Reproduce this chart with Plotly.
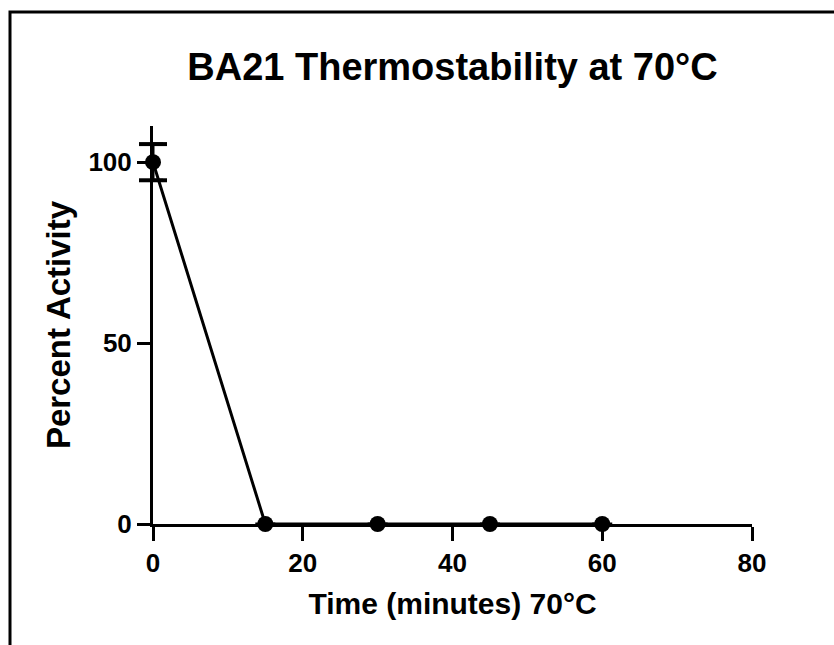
import plotly.graph_objects as go

time_min = [0, 15, 30, 45, 60]
activity = [100, 0, 0, 0, 0]
activity_err = [5, 0, 0, 0, 0]

x_ticks = [0, 20, 40, 60, 80]
y_ticks = [0, 50, 100]

FONT = "Liberation Sans, Arial, sans-serif"

fig = go.Figure()
fig.add_trace(go.Scatter(
    x=time_min, y=activity,
    mode="lines+markers",
    line=dict(color="black", width=3),
    marker=dict(color="black", size=16, symbol="circle"),
    error_y=dict(type="data", array=activity_err, visible=True,
                 color="black", thickness=3, width=10),
    cliponaxis=False,
    showlegend=False,
))

# error-bar caps drawn as markers so they are not clipped at the axis
cap_x, cap_y = [], []
for xv, yv, ev in zip(time_min, activity, activity_err):
    if ev > 0:
        cap_x += [xv, xv]
        cap_y += [yv - ev, yv + ev]
fig.add_trace(go.Scatter(
    x=cap_x, y=cap_y, mode="markers",
    marker=dict(symbol="line-ew-open", size=20, color="black",
                line=dict(color="black", width=4)),
    cliponaxis=False, showlegend=False, hoverinfo="skip",
))

L, R, T, B = 153, 82, 126, 121
W, H = 834, 645
pw, ph = W - L - R, H - T - B

def px_x(p):
    return (p - L) / pw

def px_y(p):
    return (H - B - p) / ph

fig.update_layout(
    width=W, height=H,
    margin=dict(l=L, r=R, t=T, b=B),
    paper_bgcolor="white", plot_bgcolor="white",
    font=dict(family=FONT, color="black"),
    title=dict(text="<b>BA21 Thermostability at 70°C</b>",
               x=0.5, xref="paper", xanchor="center",
               y=1 - 67 / H, yref="container", yanchor="middle",
               font=dict(size=38, family=FONT, color="black")),
    xaxis=dict(
        range=[0, 80], tickmode="array", tickvals=x_ticks,
        ticktext=[f"<b>{v}</b>" for v in x_ticks],
        showline=True, linecolor="black", linewidth=3,
        ticks="outside", ticklen=14, tickwidth=3, tickcolor="black",
        showgrid=False, zeroline=False,
        tickfont=dict(size=26, family=FONT, color="black"),
        title=dict(text="<b>Time (minutes) 70°C</b>",
                   font=dict(size=30, family=FONT, color="black"),
                   standoff=16),
    ),
    yaxis=dict(
        range=[0, 110], tickmode="array", tickvals=y_ticks,
        ticktext=[f"<b>{v}</b>" for v in y_ticks],
        showline=True, linecolor="black", linewidth=3,
        ticks="outside", ticklen=13, tickwidth=3, tickcolor="black",
        showgrid=False, zeroline=False,
        tickfont=dict(size=26, family=FONT, color="black"),
        title=dict(text="<b>Percent Activity</b>",
                   font=dict(size=33, family=FONT, color="black"),
                   standoff=8),
    ),
    shapes=[dict(type="rect", xref="paper", yref="paper",
                 x0=px_x(10), x1=px_x(845), y0=px_y(660), y1=px_y(12),
                 line=dict(color="black", width=3), fillcolor="rgba(0,0,0,0)",
                 layer="below")],
)

fig.write_html("out.html")
